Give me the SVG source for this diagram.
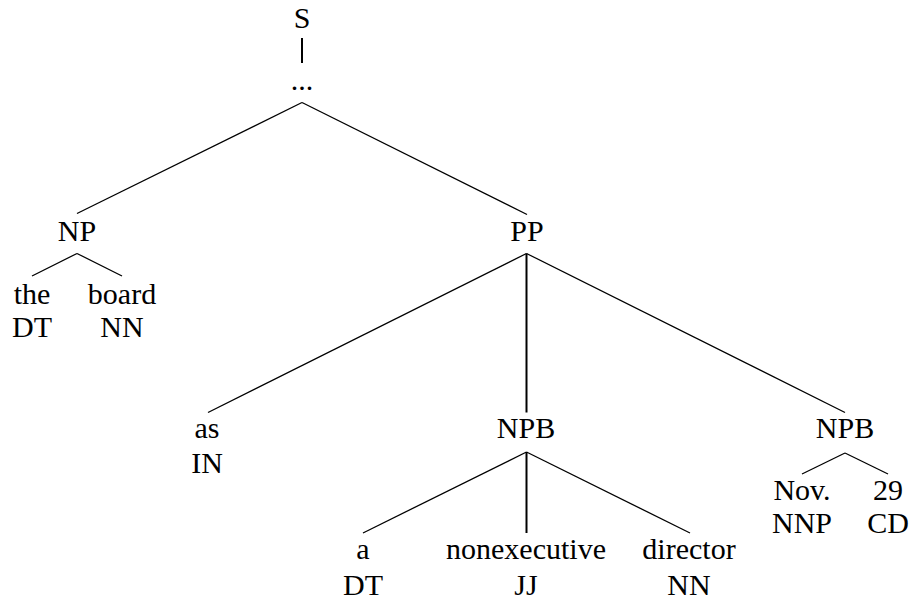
<svg xmlns="http://www.w3.org/2000/svg" width="910" height="602" viewBox="0 0 910 602">
<style>
text{font-family:'Liberation Serif','Times New Roman',Times,'Nimbus Roman','Nimbus Roman No9 L',FreeSerif,'Noto Serif','DejaVu Serif',Tinos,'Latin Modern Roman','CMU Serif',Georgia,serif;font-size:30px;fill:#000;text-anchor:middle}
#edges line{stroke:#000;stroke-width:1.3;stroke-linecap:butt}
#edges line.v{stroke-width:2}
</style>
<rect width="910" height="602" fill="#fff"/>
<g id="edges">
<line class="v" x1="302" y1="38" x2="302" y2="63"/>
<line x1="302" y1="102.5" x2="77" y2="213.5"/>
<line x1="302" y1="102.5" x2="527" y2="214.5"/>
<line x1="77" y1="253.5" x2="32" y2="276"/>
<line x1="77" y1="253.5" x2="122" y2="276"/>
<line x1="526.5" y1="253.5" x2="208" y2="412.5"/>
<line class="v" x1="526.5" y1="253.5" x2="526.5" y2="412.5"/>
<line x1="526.5" y1="253.5" x2="845" y2="412.5"/>
<line x1="526.5" y1="452" x2="363" y2="533"/>
<line class="v" x1="526.5" y1="452" x2="526.5" y2="533"/>
<line x1="526.5" y1="452" x2="690" y2="533"/>
<line x1="845" y1="453" x2="802" y2="474"/>
<line x1="845" y1="453" x2="888" y2="474"/>
</g>
<g id="S"><text x="302" y="28">S</text></g>
<g id="dots"><text x="302" y="90">...</text></g>
<g id="NP"><text x="77" y="241">NP</text></g>
<g id="PP"><text x="527" y="241">PP</text></g>
<g id="the"><text x="32" y="304">the</text><text x="32" y="337">DT</text></g>
<g id="board"><text x="122" y="304">board</text><text x="122" y="337">NN</text></g>
<g id="as"><text x="207" y="438">as</text><text x="207" y="473">IN</text></g>
<g id="NPB1"><text x="526" y="438">NPB</text></g>
<g id="NPB2"><text x="845" y="438">NPB</text></g>
<g id="a"><text x="363" y="559">a</text><text x="363" y="595">DT</text></g>
<g id="nonexecutive"><text x="526" y="559">nonexecutive</text><text x="526" y="595">JJ</text></g>
<g id="director"><text x="689" y="559">director</text><text x="689" y="595">NN</text></g>
<g id="Nov"><text x="802" y="500">Nov.</text><text x="802" y="533">NNP</text></g>
<g id="n29"><text x="888" y="500">29</text><text x="888" y="533">CD</text></g>
</svg>
